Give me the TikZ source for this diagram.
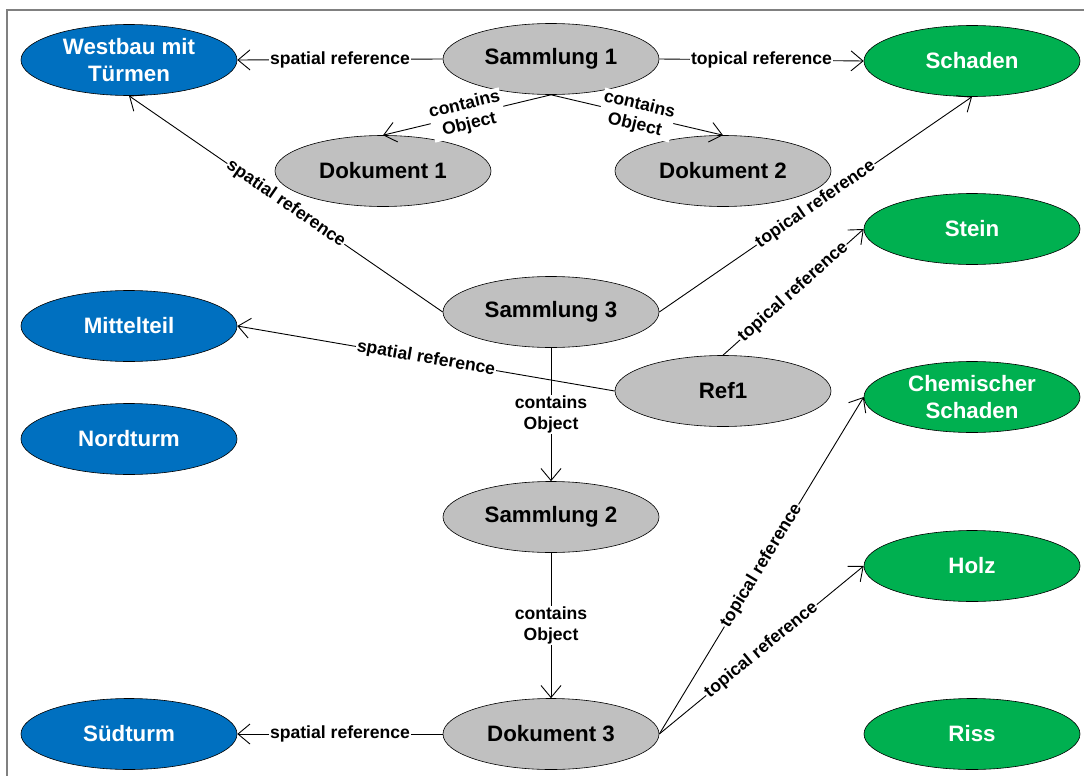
\documentclass[tikz,border=0pt]{standalone}
\usepackage{fontspec}
\setmainfont{Liberation Sans}
\usetikzlibrary{shapes.geometric,arrows.meta}
\definecolor{placeblue}{HTML}{0070C0}
\definecolor{topicgreen}{HTML}{00B050}
\definecolor{itemgray}{HTML}{C0C0C0}
\definecolor{framegray}{HTML}{808080}
\begin{document}
\begin{tikzpicture}[x=1pt,y=-1pt,
  ent/.style={ellipse, draw=black, line width=0.6pt, minimum width=216pt,
    minimum height=71pt, inner sep=0pt, align=center,
    font=\bfseries\fontsize{22.3}{26.5}\selectfont},
  place/.style={ent, fill=placeblue, text=white},
  topic/.style={ent, fill=topicgreen, text=white},
  item/.style={ent, fill=itemgray, text=black},
  rel/.style={line width=0.9pt, -{Straight Barb[length=12pt,width=20pt]}},
  lbl/.style={fill=white, inner sep=1pt, align=center,
    font=\bfseries\fontsize{17.6}{20.5}\selectfont}]
\useasboundingbox (0,0) rectangle (1084,776);
\draw[framegray, line width=1.5pt] (7,776) -- (7,10) -- (1084,10);

% places
\node[place] (westbau)  at (129,60)  {Westbau mit\\Türmen};
\node[place] (mittel)   at (129,326) {Mittelteil};
\node[place] (nord)     at (129,439) {Nordturm};
\node[place] (sued)     at (129,734) {Südturm};

% collections and documents
\node[item] (s1)   at (551,59)  {Sammlung 1};
\node[item] (d1)   at (383,171) {Dokument 1};
\node[item] (d2)   at (723,171) {Dokument 2};
\node[item] (s3)   at (551,312) {Sammlung 3};
\node[item] (ref1) at (723,391) {Ref1};
\node[item] (s2)   at (551,517) {Sammlung 2};
\node[item] (d3)   at (551,734) {Dokument 3};

% topics
\node[topic] (schaden) at (972,61)  {Schaden};
\node[topic] (stein)   at (972,229) {Stein};
\node[topic] (chem)    at (972,397) {Chemischer\\Schaden};
\node[topic] (holz)    at (972,566) {Holz};
\node[topic] (riss)    at (972,734) {Riss};

% relations
\draw[rel] (s1.west) -- node[lbl] {spatial reference} (westbau.east);
\draw[rel] (s1.east) -- node[lbl] {topical reference} (schaden.west);
\draw[rel] (s1.south) -- node[lbl, sloped] {contains\\Object} (d1.north);
\draw[rel] (s1.south) -- node[lbl, sloped] {contains\\Object} (d2.north);
\draw[rel] (s3.west) -- node[lbl, sloped] {spatial reference} (westbau.south);
\draw[rel] (s3.east) -- node[lbl, sloped] {topical reference} (schaden.south);
\draw[rel] (s3.south) -- node[lbl] {contains\\Object} (s2.north);
\draw[rel] (ref1.west) -- node[lbl, sloped] {spatial reference} (mittel.east);
\draw[rel] (ref1.north) -- node[lbl, sloped] {topical reference} (stein.west);
\draw[rel] (s2.south) -- node[lbl] {contains\\Object} (d3.north);
\draw[rel] (d3.west) -- node[lbl] {spatial reference} (sued.east);
\draw[rel] (d3.east) -- node[lbl, sloped] {topical reference} (chem.west);
\draw[rel] (d3.east) -- node[lbl, sloped] {topical reference} (holz.west);
\end{tikzpicture}
\end{document}
